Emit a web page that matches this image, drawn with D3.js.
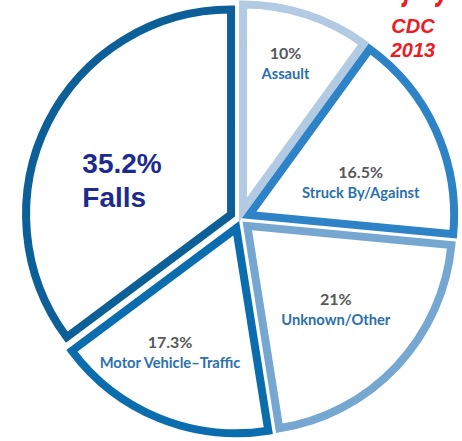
<!DOCTYPE html>
<html>
<head>
<meta charset="utf-8">
<script src="https://cdn.jsdelivr.net/npm/d3@7"></script>
<style>
  body { margin: 0; background: #fff; }
  svg { display: block; }
</style>
</head>
<body>
<div id="chart"></div>
<script>
// data (clockwise from 12 o'clock)
const categories = ["Assault", "Struck By/Against", "Unknown/Other", "Motor Vehicle–Traffic", "Falls"];
const percents = [10, 16.5, 21, 17.3, 35.2];
const percentLabels = ["10%", "16.5%", "21%", "17.3%", "35.2%"];
const strokeColors = ["#b2cae2", "#2e83c6", "#75a7d1", "#0b6cae", "#0d5f98"];
const titleText = "Causes of Traumatic Brain Injury";
const sourceLines = ["CDC", "2013"];

const width = 462, height = 441;
const center = {x: 240, y: 219};
const R = 209;          // outer edge incl. stroke
const sw = 8;           // outline width
const explode = 10;     // slice offset

// label placement: [angle in degrees, radius] from each slice's own centre
const labelAt = [[16.2, 152], [74.1, 116], [133.5, 122], [208, 141], [287.3, 116]];

const svg = d3.select("#chart")
    .append("svg")
    .attr("width", width)
    .attr("height", height);

// title, almost entirely cut off at the top edge (as in the source image)
svg.append("text")
    .attr("x", 58)
    .attr("y", -1)
    .attr("textLength", 392)
    .attr("lengthAdjust", "spacingAndGlyphs")
    .style("font", "italic bold 40px 'Liberation Sans', Arial, sans-serif")
    .style("fill", "#ec1c24")
    .text(titleText);

svg.selectAll(".src")
    .data(sourceLines)
    .enter().append("text")
        .attr("class", "src")
        .attr("x", 413)
        .attr("y", (d, i) => 33 + i * 24)
        .attr("text-anchor", "middle")
        .style("font", "italic bold 20px 'Liberation Sans', Arial, sans-serif")
        .style("fill", "#ec1c24")
        .text(d => d);

const pie = d3.pie().sort(null).value(d => d);
const arcs = pie(percents);

const arc = d3.arc()
    .innerRadius(0)
    .outerRadius(R - sw / 2);

const slice = svg.selectAll(".slice")
    .data(arcs)
    .enter().append("g")
        .attr("class", "slice")
        .attr("transform", d => {
            const a = (d.startAngle + d.endAngle) / 2;
            const cx = center.x + explode * Math.sin(a);
            const cy = center.y - explode * Math.cos(a);
            return `translate(${cx},${cy})`;
        });

slice.append("path")
    .attr("d", arc)
    .attr("fill", "#fff")
    .attr("stroke", (d, i) => strokeColors[i])
    .attr("stroke-width", sw)
    .attr("stroke-linejoin", "miter");

// labels
const label = slice.append("g")
    .attr("transform", (d, i) => {
        const a = labelAt[i][0] * Math.PI / 180, r = labelAt[i][1];
        return `translate(${r * Math.sin(a)},${-r * Math.cos(a)})`;
    });

label.each(function(d, i) {
    const g = d3.select(this);
    if (categories[i] === "Falls") {
        g.append("text")
            .attr("x", -38).attr("y", -7)
            .style("font", "bold 28px 'Liberation Sans', Arial, sans-serif")
            .style("fill", "#1d2b8e")
            .text(percentLabels[i]);
        g.append("text")
            .attr("x", -38).attr("y", 27)
            .style("font", "bold 28px 'Liberation Sans', Arial, sans-serif")
            .style("fill", "#1d2b8e")
            .text(categories[i]);
    } else {
        g.append("text")
            .attr("y", -5)
            .attr("text-anchor", "middle")
            .style("font", "bold 16px Lato, sans-serif")
            .style("fill", "#58585a")
            .text(percentLabels[i]);
        g.append("text")
            .attr("y", 15)
            .attr("text-anchor", "middle")
            .style("font", "bold 14.7px Lato, sans-serif")
            .style("fill", "#2c70ae")
            .text(categories[i]);
    }
});
</script>
</body>
</html>
